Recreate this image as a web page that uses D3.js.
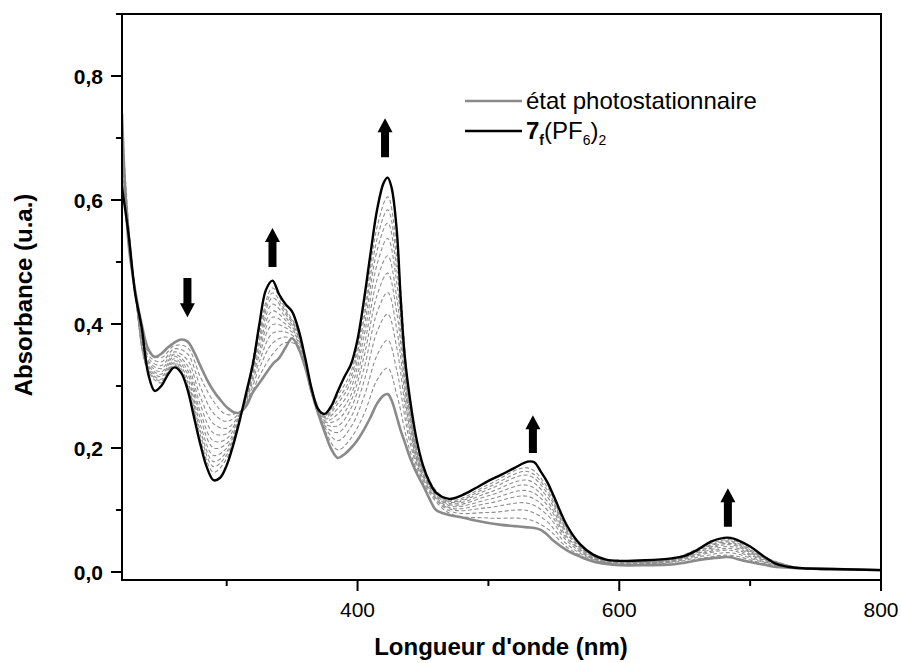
<!DOCTYPE html>
<html><head><meta charset="utf-8">
<script src="https://cdn.jsdelivr.net/npm/d3@7"></script>
<style>
html,body{margin:0;padding:0;background:#fff;}
svg{display:block;}
text{font-family:"Liberation Sans",Arial,sans-serif;}
</style></head>
<body>
<svg id="chart" width="901" height="663"></svg>
<script>
// ---------------- data ----------------
const wavelengths = [220,225,230,235,240,245,250,255,260,265,270,275,280,285,290,295,300,305,310,315,320,325,330,335,340,345,350,355,360,365,370,375,380,385,390,395,400,405,410,415,420,423,426,430,433,436,440,445,450,455,460,470,480,490,500,510,520,530,535,540,545,550,560,570,580,590,600,620,640,650,660,670,680,685,690,700,710,720,730,740,760,780,800];
const finalSpectrum = [.62,.545,.45,.395,.32,.292,.30,.318,.33,.322,.295,.25,.205,.168,.148,.152,.172,.205,.245,.29,.335,.40,.455,.47,.448,.432,.42,.39,.345,.295,.262,.255,.268,.292,.315,.335,.375,.44,.515,.585,.628,.636,.62,.55,.44,.35,.28,.215,.172,.145,.128,.118,.124,.135,.147,.157,.168,.178,.177,.162,.145,.122,.075,.045,.028,.02,.018,.019,.022,.026,.036,.049,.055,.055,.052,.041,.026,.013,.008,.006,.005,.004,.003];
const pssSpectrum = [.74,.53,.455,.40,.36,.347,.352,.362,.37,.375,.372,.355,.332,.31,.292,.278,.266,.258,.257,.268,.29,.305,.32,.335,.345,.362,.377,.36,.33,.29,.255,.225,.198,.184,.19,.2,.213,.23,.25,.272,.285,.287,.277,.25,.228,.21,.185,.16,.14,.118,.10,.092,.088,.083,.079,.076,.074,.072,.071,.068,.06,.05,.035,.025,.017,.013,.011,.011,.012,.015,.019,.022,.024,.024,.021,.016,.012,.008,.007,.006,.005,.004,.003];

const wavelengthsDashed = [220,230,240,250,260,270,280,290,300,312,325,335,345,355,365,375,385,395,405,415,423,430,440,450,470,500,530,545,560,580,600,640,665,685,710,740,800];
const dashed1  = [.726,.454,.355,.346,.365,.362,.314,.275,.254,.262,.316,.351,.370,.364,.286,.229,.197,.216,.255,.310,.329,.286,.196,.144,.095,.087,.085,.070,.040,.018,.012,.013,.023,.027,.014,.006,.003];
const dashed2  = [.710,.454,.350,.339,.360,.352,.298,.256,.243,.262,.329,.369,.379,.368,.288,.233,.212,.234,.283,.350,.374,.325,.209,.148,.099,.096,.099,.081,.045,.020,.013,.015,.026,.031,.016,.006,.003];
const dashed3  = [.696,.453,.345,.333,.355,.342,.282,.239,.232,.262,.340,.385,.387,.371,.289,.236,.225,.250,.308,.388,.416,.361,.220,.151,.102,.104,.111,.092,.050,.021,.014,.016,.029,.035,.017,.006,.003];
const dashed4  = [.684,.453,.341,.328,.351,.333,.269,.224,.223,.262,.350,.399,.394,.374,.290,.239,.236,.264,.329,.419,.451,.391,.230,.154,.104,.111,.122,.100,.054,.022,.014,.017,.031,.038,.019,.006,.003];
const dashed5  = [.673,.452,.338,.323,.348,.326,.257,.211,.215,.262,.358,.411,.400,.377,.291,.242,.246,.276,.348,.447,.482,.418,.238,.157,.107,.117,.131,.108,.057,.023,.015,.018,.033,.041,.020,.006,.003];
const dashed6  = [.663,.452,.334,.319,.344,.320,.247,.200,.207,.262,.366,.421,.406,.379,.291,.244,.255,.286,.364,.472,.510,.442,.246,.159,.109,.123,.140,.114,.061,.024,.016,.018,.035,.044,.021,.006,.003];
const dashed7  = [.654,.451,.331,.315,.341,.313,.236,.188,.200,.262,.373,.432,.411,.382,.292,.247,.264,.297,.381,.497,.538,.466,.253,.162,.111,.128,.148,.121,.064,.025,.016,.019,.037,.046,.022,.006,.003];
const dashed8  = [.645,.451,.328,.311,.338,.307,.227,.178,.194,.262,.380,.442,.416,.384,.293,.249,.272,.307,.396,.519,.563,.487,.260,.164,.113,.133,.156,.127,.067,.026,.017,.020,.039,.048,.023,.006,.003];
const dashed9  = [.638,.451,.326,.308,.336,.302,.220,.170,.189,.262,.386,.450,.420,.386,.294,.251,.278,.315,.409,.538,.584,.505,.266,.166,.114,.137,.162,.132,.069,.026,.017,.021,.040,.050,.024,.006,.003];
const dashed10 = [.631,.450,.324,.305,.334,.297,.212,.161,.183,.262,.392,.458,.424,.387,.294,.252,.285,.323,.421,.557,.605,.523,.272,.167,.116,.141,.168,.137,.071,.027,.017,.021,.042,.052,.025,.006,.003];
const dashedSeries = [dashed1,dashed2,dashed3,dashed4,dashed5,dashed6,dashed7,dashed8,dashed9,dashed10];

const xMajorTicks = [400,600,800];
const xMinorTicks = [300,500,700];
const yMajorTicks = [0,0.2,0.4,0.6,0.8];
const yMinorTicks = [0.1,0.3,0.5,0.7];
const yTickLabels = ["0,0","0,2","0,4","0,6","0,8"];

// arrows: wavelength, tail value, head value
const arrowX    = [270, 335, 421, 534, 683];
const arrowFrom = [0.474, 0.492, 0.669, 0.192, 0.073];
const arrowTo   = [0.411, 0.555, 0.732, 0.253, 0.135];

// ---------------- drawing ----------------
const svg = d3.select("#chart");
const L = 122, R = 881, T = 14, B = 580;
const x = d3.scaleLinear().domain([220, 800]).range([L, R]);
const y = d3.scaleLinear().domain([-0.0129, 0.9]).range([B, T]);

const clipId = "plotclip";
svg.append("clipPath").attr("id", clipId).append("rect")
  .attr("x", L).attr("y", T).attr("width", R - L).attr("height", B - T);

const plot = svg.append("g").attr("clip-path", `url(#${clipId})`);
const line = d3.line().curve(d3.curveCatmullRom.alpha(0.5));

dashedSeries.forEach(vals => {
  plot.append("path")
    .attr("d", line(wavelengthsDashed.map((w, i) => [x(w), y(vals[i])])))
    .attr("fill", "none").attr("stroke", "#8e8e8e").attr("stroke-width", 1.1)
    .attr("stroke-dasharray", "4,2.5");
});
plot.append("path")
  .attr("d", line(wavelengths.map((w, i) => [x(w), y(pssSpectrum[i])])))
  .attr("fill", "none").attr("stroke", "#8a8a8a").attr("stroke-width", 2.6);
plot.append("path")
  .attr("d", line(wavelengths.map((w, i) => [x(w), y(finalSpectrum[i])])))
  .attr("fill", "none").attr("stroke", "#000").attr("stroke-width", 2.4);

// frame
const ax = svg.append("g").attr("stroke", "#000").attr("stroke-width", 2).attr("fill", "none");
ax.append("line").attr("x1", 116).attr("x2", R + 1).attr("y1", T).attr("y2", T);
ax.append("line").attr("x1", R).attr("x2", R).attr("y1", T).attr("y2", B);
ax.append("line").attr("x1", L).attr("x2", L).attr("y1", T).attr("y2", B + 1);
ax.append("line").attr("x1", L - 1).attr("x2", R + 1).attr("y1", B).attr("y2", B);

// x ticks
xMajorTicks.forEach(t => {
  ax.append("line").attr("x1", x(t)).attr("x2", x(t)).attr("y1", B).attr("y2", B + 11);
});
xMinorTicks.forEach(t => {
  ax.append("line").attr("x1", x(t)).attr("x2", x(t)).attr("y1", B).attr("y2", B + 6);
});
svg.append("g").selectAll("text").data(xMajorTicks).join("text")
  .attr("x", d => x(d)).attr("y", 617).attr("text-anchor", "middle")
  .attr("font-size", 21).attr("fill", "#000").text(d => d);

// y ticks
yMajorTicks.forEach(t => {
  ax.append("line").attr("x1", L - 11).attr("x2", L).attr("y1", y(t)).attr("y2", y(t));
});
yMinorTicks.forEach(t => {
  ax.append("line").attr("x1", L - 6).attr("x2", L).attr("y1", y(t)).attr("y2", y(t));
});
svg.append("g").selectAll("text").data(yMajorTicks).join("text")
  .attr("x", 103).attr("y", d => y(d) + 7.5).attr("text-anchor", "end")
  .attr("font-size", 21).attr("font-weight", "bold").attr("fill", "#000")
  .text((d, i) => yTickLabels[i]);

// axis titles
svg.append("text").attr("x", 501).attr("y", 655).attr("text-anchor", "middle")
  .attr("font-size", 24).attr("font-weight", "bold").text("Longueur d'onde (nm)");
svg.append("text").attr("transform", "translate(32,295) rotate(-90)")
  .attr("text-anchor", "middle").attr("font-size", 24).attr("font-weight", "bold")
  .text("Absorbance (u.a.)");

// arrows
arrowX.forEach((w, i) => {
  const cx = x(w), y0 = y(arrowFrom[i]), y1 = y(arrowTo[i]);
  const dir = y1 < y0 ? -1 : 1;           // -1 up, +1 down
  const headLen = 14, sw = 4, hw = 7.5;
  const yh = y1 - dir * headLen;
  const pts = [[cx - sw, y0], [cx - sw, yh], [cx - hw, yh], [cx, y1], [cx + hw, yh], [cx + sw, yh], [cx + sw, y0]];
  svg.append("path").attr("d", "M" + pts.map(p => p.join(",")).join("L") + "Z").attr("fill", "#000");
});

// legend
const lg = svg.append("g");
lg.append("line").attr("x1", 465).attr("x2", 522).attr("y1", 101).attr("y2", 101)
  .attr("stroke", "#8a8a8a").attr("stroke-width", 2.6);
lg.append("text").attr("x", 526).attr("y", 109).attr("font-size", 24).text("état photostationnaire");
lg.append("line").attr("x1", 465).attr("x2", 522).attr("y1", 131).attr("y2", 131)
  .attr("stroke", "#000").attr("stroke-width", 2.4);
const t2 = lg.append("text").attr("x", 526).attr("y", 139).attr("font-size", 24);
t2.append("tspan").attr("font-weight", "bold").text("7");
t2.append("tspan").attr("font-weight", "bold").attr("font-size", 14).attr("dy", 6).text("f");
t2.append("tspan").attr("dy", -6).text("(PF");
t2.append("tspan").attr("font-size", 14).attr("dy", 6).text("6");
t2.append("tspan").attr("dy", -6).text(")");
t2.append("tspan").attr("font-size", 14).attr("dy", 6).text("2");
</script>
</body></html>
